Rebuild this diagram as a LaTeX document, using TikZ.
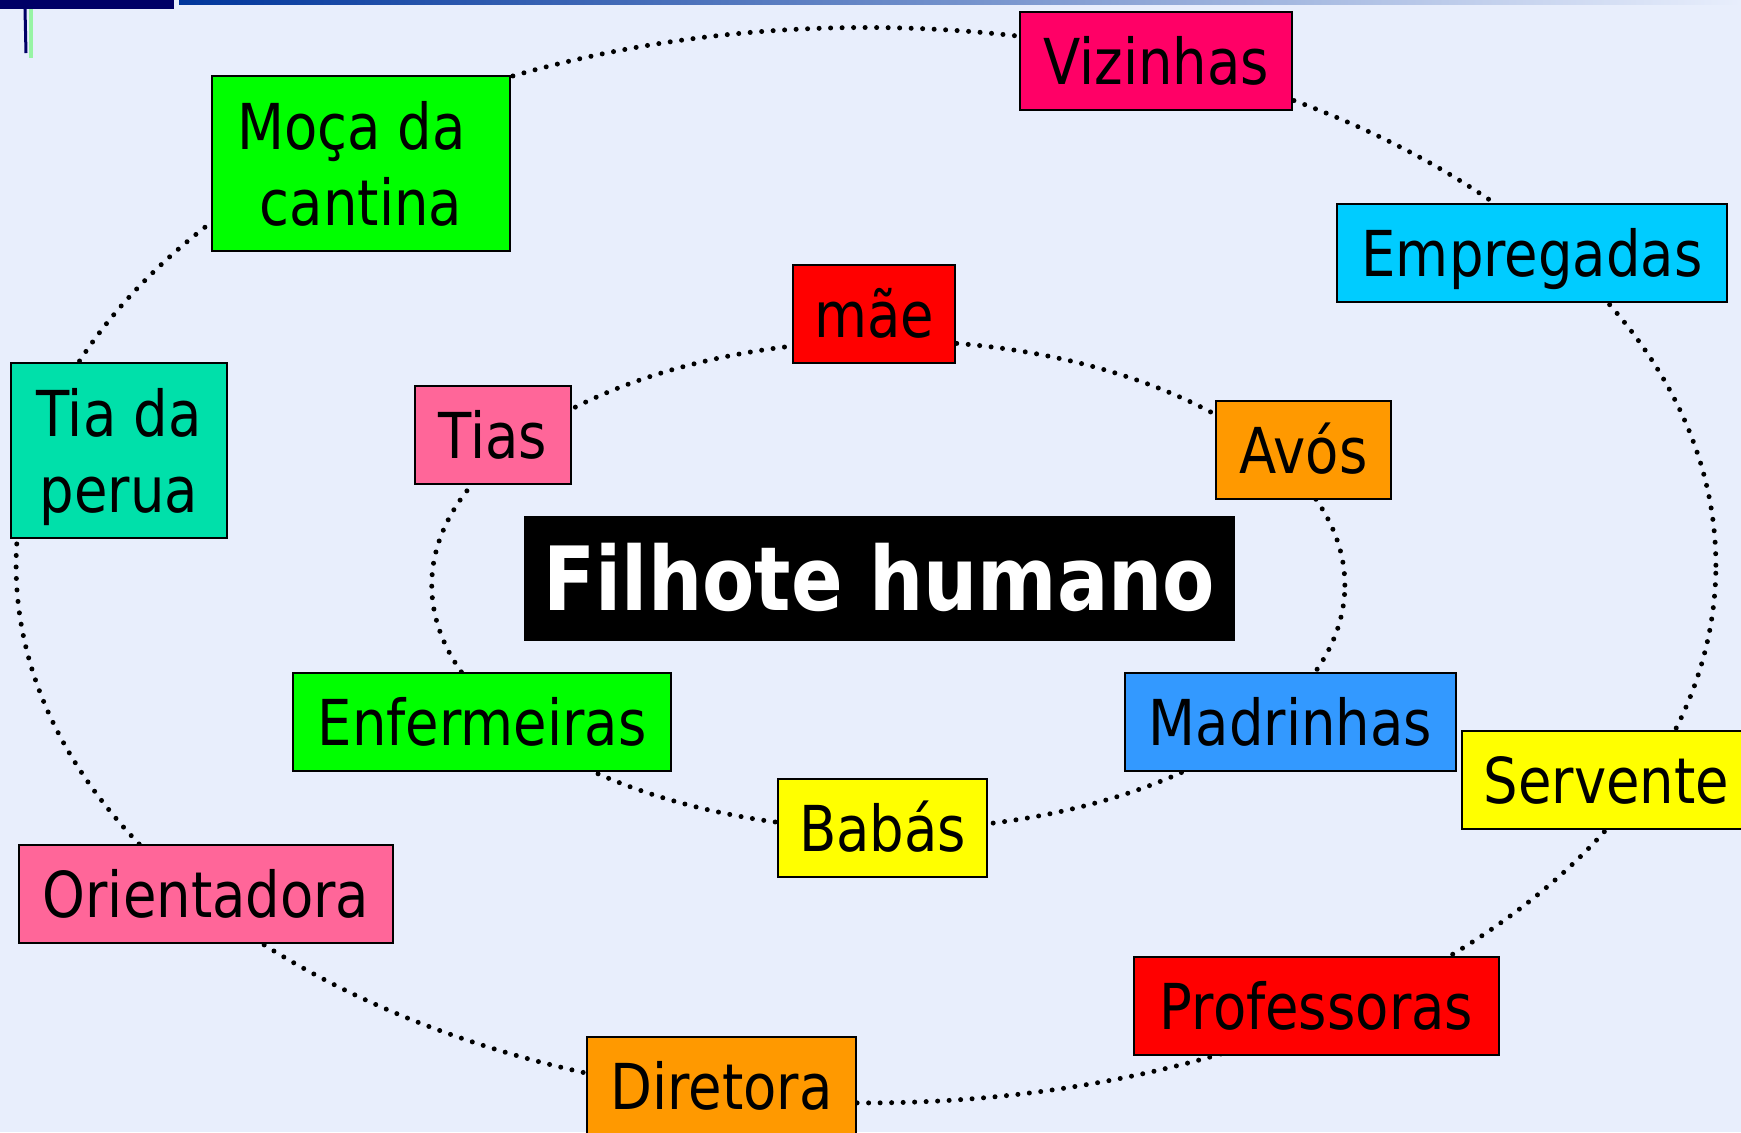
\documentclass[tikz,border=0pt]{standalone}
\usepackage{fontspec}
\setmainfont[FakeStretch=0.86]{DejaVu Sans}
\definecolor{fundo}{HTML}{E8EEFC}
\definecolor{marinho}{HTML}{000066}
\definecolor{rosaforte}{HTML}{FF0066}
\definecolor{verde}{HTML}{00FF00}
\definecolor{ciano}{HTML}{00CCFF}
\definecolor{vermelho}{HTML}{FF0000}
\definecolor{turquesa}{HTML}{00E0AA}
\definecolor{rosa}{HTML}{FF6699}
\definecolor{laranja}{HTML}{FF9900}
\definecolor{azul}{HTML}{3399FF}
\definecolor{amarelo}{HTML}{FFFF00}

\begin{document}
\begin{tikzpicture}[x=0.01cm,y=-0.01cm,
            caixa/.style={draw,line width=0.75pt,inner sep=0pt,minimum height=0.98cm,
                          font=\fontsize{18}{21.6}\selectfont,text depth=0pt},
            linha/.style={caixa,text height=13.3pt},
            duas/.style={caixa,align=center,minimum height=1.75cm},
            circulo/.style={line width=0.05cm,line cap=round,dash pattern=on 0pt off 0.115cm}
          ]
          \useasboundingbox (0,0) rectangle (1741,1132);
          \clip (0,0) rectangle (1741,1132);
          \fill[fundo] (0,0) rectangle (1741,1132);

          %header
          \fill[marinho] (0,0) rectangle (174,9);
          \shade[left color=black!30!teal!60!blue,middle color=black!10!fundo,right color=fundo] (179,0) rectangle (1741,4);
          \draw[marinho,line width=0.03cm] (25,9) -- (26,53);
          \draw[green!35!fundo,line width=0.03cm] (31,9) -- (31,58);

          %rings
          \draw[circulo] (866,565.2) ellipse [x radius=8.494cm,y radius=5.374cm];
          \draw[circulo] (888.3,585.1) ellipse [x radius=4.563cm,y radius=2.443cm];

          %centre
          \node[fill=black,text=white,inner sep=0pt,minimum width=7.11cm,minimum height=1.25cm,
                font=\fontsize{25.2}{30}\selectfont\bfseries,text height=18.4pt,text depth=0pt]
                (filhote) at (879.5,578.5) {Filhote humano};

          %inner ring
          \node[linha,fill=vermelho,minimum width=1.62cm] (mae) at (874,314) {mãe};
          \node[linha,fill=rosa,minimum width=1.56cm] (tias) at (493,435) {Tias};
          \node[linha,fill=laranja,minimum width=1.75cm] (avos) at (1303.5,450) {Avós};
          \node[linha,fill=verde,minimum width=3.78cm] (enfermeiras) at (482,722) {Enfermeiras};
          \node[linha,fill=azul,minimum width=3.31cm] (madrinhas) at (1290.5,722) {Madrinhas};
          \node[linha,fill=amarelo,minimum width=2.09cm] (babas) at (882.5,828) {Babás};

          %outer ring
          \node[linha,fill=rosaforte,minimum width=2.72cm] (vizinhas) at (1156,61) {Vizinhas};
          \node[duas,fill=verde,minimum width=2.98cm] (moca) at (361,163.5) {Moça da\hspace*{.3em}\\cantina};
          \node[linha,fill=ciano,minimum width=3.90cm] (empregadas) at (1532,253) {Empregadas};
          \node[duas,fill=turquesa,minimum width=2.16cm] (perua) at (119,450.5) {Tia da\\perua};
          \node[linha,fill=amarelo,minimum width=2.89cm] (servente) at (1606.5,780) {Servente};
          \node[linha,fill=rosa,minimum width=3.74cm] (orientadora) at (206,894) {Orientadora};
          \node[linha,fill=vermelho,minimum width=3.65cm] (professoras) at (1316.5,1006) {Professoras};
          \node[linha,fill=laranja,minimum width=2.69cm] (diretora) at (721.5,1086) {Diretora};
      \end{tikzpicture}
\end{document}
